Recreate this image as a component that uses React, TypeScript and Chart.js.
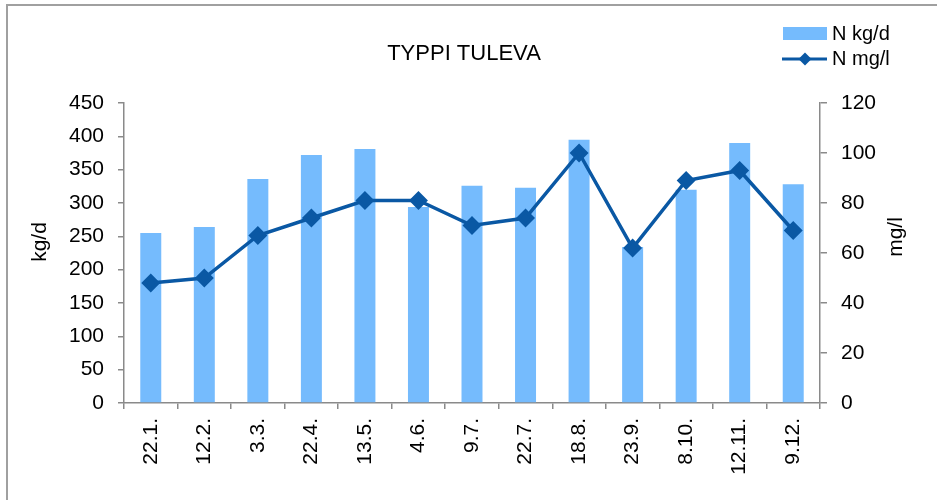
import React, { useEffect, useRef } from "react";
import { Chart, registerables } from "chart.js";

Chart.register(...registerables);

const categories = ["22.1.", "12.2.", "3.3.", "22.4.", "13.5.", "4.6.", "9.7.", "22.7.", "18.8.", "23.9.", "8.10.", "12.11.", "9.12."];
const nKgD = [255, 264, 336, 372, 381, 294, 326, 323, 395, 234, 320, 390, 328];
const nMgL = [48, 50, 67, 74, 81, 81, 71, 74, 100, 62, 89, 93, 69];
const titleText = "TYPPI TULEVA";
const leftTitle = "kg/d";
const rightTitle = "mg/l";
const barLabel = "N kg/d";
const lineLabel = "N mg/l";

const FONT = "'Liberation Sans', Arial, sans-serif";
const BAR_COLOR = "#75bbfd";
const LINE_COLOR = "#0a58a4";
const AXIS_COLOR = "#8a8a8a";

const decorPlugin = {
  id: "decor",
  beforeDraw(chart: any) {
    const ctx = chart.ctx;
    ctx.save();
    ctx.fillStyle = "#ffffff";
    ctx.fillRect(0, 0, chart.width, chart.height);
    ctx.strokeStyle = "#a0a0a0";
    ctx.lineWidth = 2;
    ctx.beginPath();
    ctx.moveTo(7, chart.height);
    ctx.lineTo(7, 5);
    ctx.lineTo(937, 5);
    ctx.stroke();
    ctx.restore();
  },
  afterDraw(chart: any) {
    const ctx = chart.ctx;
    ctx.save();
    ctx.fillStyle = "#000";
    // title
    ctx.font = `22px ${FONT}`;
    ctx.textAlign = "center";
    ctx.textBaseline = "middle";
    ctx.fillText(titleText, 464, 54);
    // axis titles
    ctx.font = `21px ${FONT}`;
    ctx.save();
    ctx.translate(40, 242);
    ctx.rotate(-Math.PI / 2);
    ctx.fillText(leftTitle, 0, 0);
    ctx.restore();
    ctx.save();
    ctx.translate(896, 237);
    ctx.rotate(-Math.PI / 2);
    ctx.fillText(rightTitle, 0, 0);
    ctx.restore();
    // legend
    ctx.fillStyle = BAR_COLOR;
    ctx.fillRect(783, 27, 44, 13);
    ctx.strokeStyle = LINE_COLOR;
    ctx.lineWidth = 3;
    ctx.beginPath();
    ctx.moveTo(782, 59);
    ctx.lineTo(827, 59);
    ctx.stroke();
    ctx.fillStyle = LINE_COLOR;
    ctx.beginPath();
    ctx.moveTo(805, 52.5);
    ctx.lineTo(811.5, 59);
    ctx.lineTo(805, 65.5);
    ctx.lineTo(798.5, 59);
    ctx.closePath();
    ctx.fill();
    ctx.fillStyle = "#000";
    ctx.font = `20px ${FONT}`;
    ctx.textAlign = "left";
    ctx.fillText(barLabel, 832, 34);
    ctx.fillText(lineLabel, 832, 59);
    ctx.restore();
  },
};

export default function App() {
  const ref = useRef<HTMLCanvasElement | null>(null);
  useEffect(() => {
    if (!ref.current) return;
    const tickFont = { family: FONT, size: 21 };
    const chart = new Chart(ref.current, {
      type: "bar",
      data: {
        labels: categories,
        datasets: [
          {
            type: "line",
            label: lineLabel,
            data: nMgL,
            yAxisID: "y1",
            borderColor: LINE_COLOR,
            backgroundColor: LINE_COLOR,
            borderWidth: 3.5,
            pointStyle: "rectRot",
            pointRadius: 7,
            pointHoverRadius: 7,
            tension: 0,
            order: 0,
          } as any,
          {
            type: "bar",
            label: barLabel,
            data: nKgD,
            yAxisID: "y",
            backgroundColor: BAR_COLOR,
            borderWidth: 0,
            barPercentage: 0.8,
            categoryPercentage: 0.49,
            order: 1,
          } as any,
        ],
      },
      options: {
        animation: false,
        responsive: false,
        devicePixelRatio: 1,
        layout: { padding: { top: 103, left: 0, right: 0, bottom: 0 } },
        plugins: {
          legend: { display: false },
          title: { display: false },
          tooltip: { enabled: false },
        },
        scales: {
          x: {
            offset: true,
            grid: {
              display: true,
              drawOnChartArea: false,
              offset: true,
              tickLength: 6,
              color: AXIS_COLOR,
              lineWidth: 1.5,
            },
            border: { display: true, color: AXIS_COLOR, width: 1.5 },
            ticks: {
              minRotation: 90,
              maxRotation: 90,
              autoSkip: false,
              padding: 9,
              color: "#000",
              font: tickFont,
            },
            afterFit: (s: any) => {
              s.height = 97;
            },
          },
          y: {
            position: "left",
            min: 0,
            max: 450,
            grid: {
              display: true,
              drawOnChartArea: false,
              tickLength: 6,
              color: AXIS_COLOR,
              lineWidth: 1.5,
            },
            border: { display: true, color: AXIS_COLOR, width: 1.5 },
            ticks: { stepSize: 50, padding: 14, color: "#000", font: tickFont },
            afterFit: (s: any) => {
              s.width = 124;
            },
          },
          y1: {
            position: "right",
            min: 0,
            max: 120,
            grid: {
              display: true,
              drawOnChartArea: false,
              tickLength: 7,
              color: AXIS_COLOR,
              lineWidth: 1.5,
            },
            border: { display: true, color: AXIS_COLOR, width: 1.5 },
            ticks: { stepSize: 20, padding: 14, color: "#000", font: tickFont },
            afterFit: (s: any) => {
              s.width = 122;
            },
          },
        },
      } as any,
      plugins: [decorPlugin],
    });
    return () => chart.destroy();
  }, []);
  return (
    <div style={{ position: "absolute", left: 0, top: 0, width: 942, height: 500 }}>
      <canvas ref={ref} width={942} height={500} style={{ width: 942, height: 500, display: "block" }} />
    </div>
  );
}
